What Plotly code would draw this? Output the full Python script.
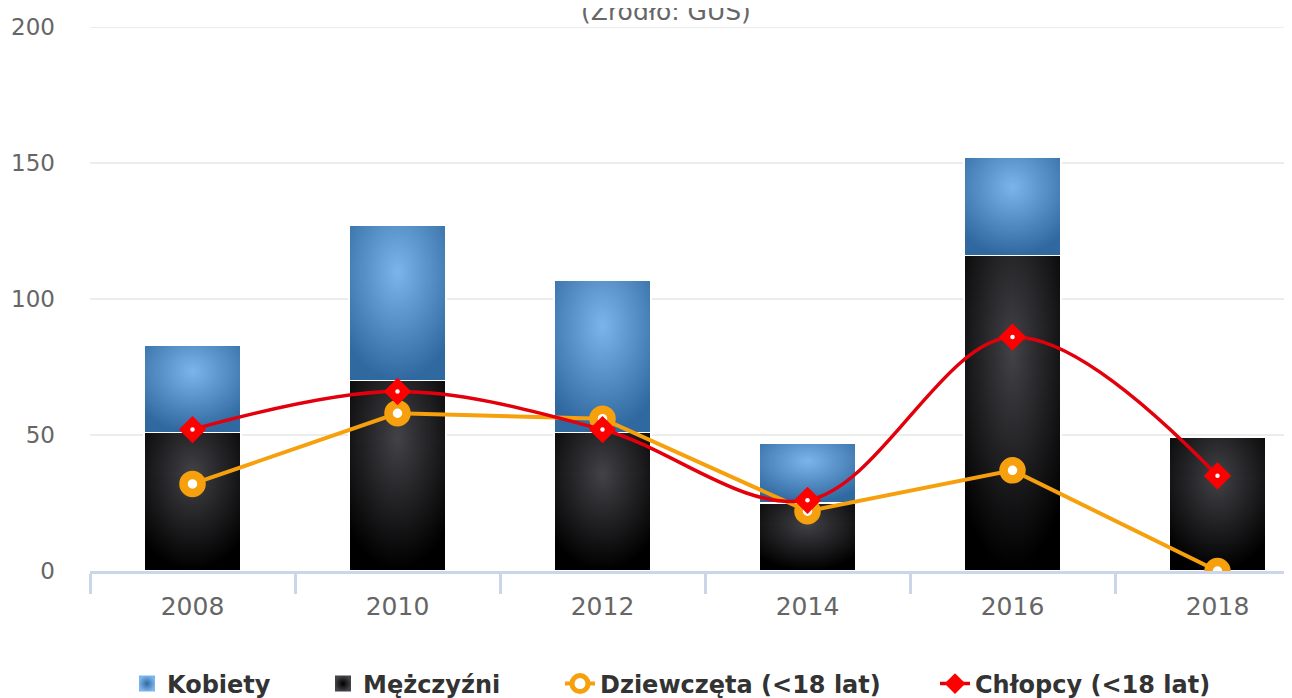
import base64
import struct
import zlib
import numpy as np
import plotly.graph_objects as go

years = ["2008", "2010", "2012", "2014", "2016", "2018"]
kobiety = [32, 57, 56, 22, 36, 0]
mezczyzni = [51, 70, 51, 25, 116, 49]
dziewczeta = [32, 58, 56, 22, 37, 0]
chlopcy = [52, 66, 52, 26, 86, 35]

# page has an 8px body margin; work in figure pixels
W, H = 1284, 690
L, T, B = 82, 19, 127
PW = W - L
CAT = 205.0
BARW = 0.475

BLUE_C, BLUE_E = (124, 181, 236), (48, 105, 160)
BLACK_C, BLACK_E = (67, 67, 72), (0, 0, 0)


def gradient_png(c0, c1, n=96):
    u = (np.arange(n) + 0.5) / n
    uu, vv = np.meshgrid(u, u)
    t = np.clip(np.sqrt((uu - 0.5) ** 2 + (vv - 0.3) ** 2) / 0.7, 0, 1)[..., None]
    arr = (np.array(c0) * (1 - t) + np.array(c1) * t).round().astype(np.uint8)
    raw = b"".join(b"\x00" + arr[i].tobytes() for i in range(n))

    def chunk(tag, data):
        return (struct.pack(">I", len(data)) + tag + data
                + struct.pack(">I", zlib.crc32(tag + data) & 0xFFFFFFFF))

    png = (b"\x89PNG\r\n\x1a\n"
           + chunk(b"IHDR", struct.pack(">IIBBBBB", n, n, 8, 2, 0, 0, 0))
           + chunk(b"IDAT", zlib.compress(raw))
           + chunk(b"IEND", b""))
    return "data:image/png;base64," + base64.b64encode(png).decode()


blue_img = gradient_png(BLUE_C, BLUE_E)
black_img = gradient_png(BLACK_C, BLACK_E)

fig = go.Figure()
# stacked bars: outlines drawn by the bar traces, gradient fill placed beneath via axis coords
fig.add_trace(go.Bar(
    x=years, y=mezczyzni, name="Mężczyźni", showlegend=False,
    marker=dict(color="rgba(0,0,0,0)", line=dict(color="white", width=1.5)),
    width=BARW,
))
fig.add_trace(go.Bar(
    x=years, y=kobiety, name="Kobiety", showlegend=False,
    marker=dict(color="rgba(0,0,0,0)", line=dict(color="white", width=1.5)),
    width=BARW,
))

images = []
for i, (m, k) in enumerate(zip(mezczyzni, kobiety)):
    if m > 0:
        images.append(dict(source=black_img, xref="x", yref="y", x=i - BARW / 2, y=m,
                           sizex=BARW, sizey=m, sizing="stretch", layer="below",
                           xanchor="left", yanchor="top"))
    if k > 0:
        images.append(dict(source=blue_img, xref="x", yref="y", x=i - BARW / 2, y=m + k,
                           sizex=BARW, sizey=k, sizing="stretch", layer="below",
                           xanchor="left", yanchor="top"))

# legend entries for the bar series
fig.add_trace(go.Scatter(
    x=[None], y=[None], name="Kobiety", legend="legend", mode="markers",
    marker=dict(symbol="square", size=16, color="rgb(124,181,236)",
                gradient=dict(type="radial", color="rgb(48,105,160)")),
))
fig.add_trace(go.Scatter(
    x=[None], y=[None], name="Mężczyźni", legend="legend2", mode="markers",
    marker=dict(symbol="square", size=16, color="rgb(67,67,72)",
                gradient=dict(type="radial", color="black")),
))

fig.add_trace(go.Scatter(
    x=years, y=dziewczeta, name="Dziewczęta (<18 lat)", legend="legend3",
    mode="lines+markers", line=dict(color="#f5a00c", width=4),
    marker=dict(symbol="circle", size=18, color="white",
                line=dict(color="#f5a00c", width=8.5)),
))
fig.add_trace(go.Scatter(
    x=years, y=chlopcy, name="Chłopcy (<18 lat)", legend="legend4",
    mode="lines+markers", line=dict(color="#e2000c", width=3.5, shape="spline", smoothing=1),
    marker=dict(symbol="diamond", size=21, color="#ff0000", line=dict(width=0)),
))
fig.add_trace(go.Scatter(
    x=years, y=chlopcy, showlegend=False, mode="markers", hoverinfo="skip",
    marker=dict(symbol="circle", size=4.5, color="white", line=dict(width=0)),
))

yticks = [0, 50, 100, 150, 200]
shapes = [dict(type="line", xref="x domain", yref="y", x0=0, x1=1, y0=v, y1=v,
               line=dict(color="#e6e6e6", width=1.5), layer="below")
          for v in yticks[1:]]

legfont = dict(family="DejaVu Sans", size=24, color="#333333", weight="bold")


def leg(xpx):
    return dict(x=xpx / W, xref="container", y=1 - 676 / H, yref="container",
                xanchor="left", yanchor="middle", orientation="h",
                font=legfont, bgcolor="rgba(0,0,0,0)", borderwidth=0)


fig.update_layout(
    width=W, height=H,
    margin=dict(l=L, r=0, t=T, b=B, autoexpand=False),
    paper_bgcolor="white", plot_bgcolor="white",
    barmode="stack",
    font=dict(family="DejaVu Sans", color="#666666"),
    showlegend=True,
    legend=leg(119), legend2=leg(315), legend3=leg(552), legend4=leg(927),
    images=images,
    shapes=shapes,
    xaxis=dict(
        type="category", range=[-0.5, -0.5 + PW / CAT],
        tickson="boundaries", ticks="outside", ticklen=20, tickwidth=2.5,
        tickcolor="#ccd6eb",
        showline=True, linecolor="#ccd6eb", linewidth=2.5,
        showgrid=False, tickfont=dict(size=25, color="#666666"),
        ticklabelstandoff=11, automargin=False,
    ),
    yaxis=dict(
        range=[0, 200], tickvals=yticks,
        showgrid=False, zeroline=False, showline=False,
        tickfont=dict(size=23, color="#666666"),
        ticklabelstandoff=34, automargin=False,
    ),
    annotations=[dict(
        text="(Źródło: GUS)", x=(666 - 8 - L) / PW, xref="paper",
        y=1 + 16 / 544, yref="paper",
        xanchor="center", yanchor="middle", showarrow=False,
        font=dict(size=25, color="#666666"),
    )],
)

fig.write_html("out.html")
